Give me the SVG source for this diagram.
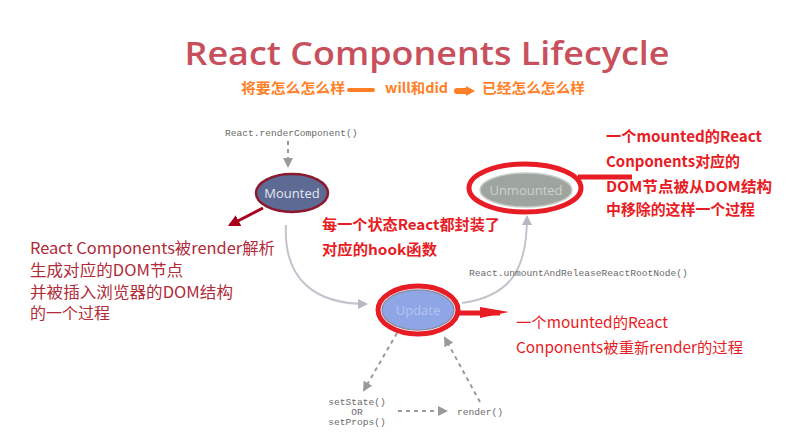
<svg xmlns="http://www.w3.org/2000/svg" width="790" height="447" viewBox="0 0 790 447">
<defs>
<style>
.mono{font-family:"Liberation Mono","DejaVu Sans Mono",monospace;font-size:9.6px;fill:#6a6a6a}
.cn{font-family:"Noto Sans CJK SC","Liberation Sans",sans-serif}
.nodeText{font-family:"Open Sans","Liberation Sans",sans-serif;font-size:13px;text-anchor:middle}
.gray{fill:none;stroke:#c4c4cf;stroke-width:2}
.dash{fill:none;stroke:#9a9a9a;stroke-width:2;stroke-dasharray:4 4}
.redring{fill:none;stroke:#e81c24;stroke-width:5}
</style>
<marker id="ahGray" viewBox="0 0 10 10" refX="8" refY="5" markerWidth="5" markerHeight="5" orient="auto"><path d="M0 0 L10 5 L0 10 Z" fill="#b8b8c4"/></marker>
<marker id="ahDash" viewBox="0 0 10 10" refX="8" refY="5" markerWidth="5" markerHeight="5" orient="auto"><path d="M0 0 L10 5 L0 10 Z" fill="#9a9a9a"/></marker>
<marker id="ahDark" viewBox="0 0 10 10" refX="8" refY="5" markerWidth="4" markerHeight="4" orient="auto"><path d="M0 0 L10 5 L0 10 Z" fill="#a8001c"/></marker>
</defs>
<rect width="790" height="447" fill="#ffffff"/>

<text x="427" y="65" text-anchor="middle" font-family="Open Sans, Liberation Sans, sans-serif" font-weight="600" font-size="33" fill="#c8505c" textLength="485" lengthAdjust="spacingAndGlyphs">React Components Lifecycle</text>

<g id="subtitle" class="cn" font-weight="bold" font-size="14" fill="#ff7f27">
<text x="241" y="93" textLength="104" lengthAdjust="spacingAndGlyphs">将要怎么怎么样</text>
<path d="M349 90 L373 90" stroke="#ff7f27" stroke-width="4" stroke-linecap="round"/>
<text x="385" y="93" textLength="63" lengthAdjust="spacingAndGlyphs">will和did</text>
<path d="M457 91 L468 91" stroke="#ff7f27" stroke-width="6" stroke-linecap="round"/>
<path d="M466 86 L475 91 L466 96 Z" fill="#ff7f27"/>
<text x="482" y="93" textLength="103" lengthAdjust="spacingAndGlyphs">已经怎么怎么样</text>
</g>

<g id="connectors">
<path class="dash" d="M288 141 L288 166" marker-end="url(#ahDash)"/>
<path class="gray" d="M286 225 C283 282 318 304 366 304" marker-end="url(#ahGray)"/>
<path class="gray" d="M462 303 C512 296 527 268 527 217" marker-end="url(#ahGray)"/>
<path class="dash" d="M397 333 L364 390" marker-end="url(#ahDash)"/>
<path class="dash" d="M398 411 L446 411" marker-end="url(#ahDash)"/>
<path class="dash" d="M480 402 L445 338" marker-end="url(#ahDash)"/>
<path d="M263 208 L230 225" fill="none" stroke="#a8001c" stroke-width="3" marker-end="url(#ahDark)"/>
</g>

<text class="mono" x="225" y="136">React.renderComponent()</text>
<text class="mono" x="469" y="276">React.unmountAndReleaseReactRootNode()</text>
<g id="calls" class="mono" text-anchor="middle">
<text x="357" y="405">setState()</text>
<text x="357" y="415">OR</text>
<text x="357" y="425">setProps()</text>
<text x="480" y="415">render()</text>
</g>

<g id="mounted">
<ellipse cx="292" cy="193" rx="36" ry="19" fill="#5c6a94" stroke="#8b1a2e" stroke-width="2.5"/>
<text class="nodeText" x="292" y="198" fill="#e6e8f0">Mounted</text>
</g>

<g id="unmounted">
<ellipse cx="526" cy="190" rx="46" ry="17" fill="#9ea49e" stroke="#c8ccc8" stroke-width="1.5"/>
<text class="nodeText" x="526" y="195" fill="#cdd1cd">Unmounted</text>
<ellipse class="redring" cx="525" cy="188" rx="56" ry="24"/>
<path d="M578 177 L632 177" stroke="#e81c24" stroke-width="5"/>
</g>

<g id="update">
<ellipse cx="418" cy="310" rx="36" ry="20" fill="#8ea6e6" stroke="#8a8fa8" stroke-width="1.5"/>
<text class="nodeText" x="418" y="315" fill="#b4c4ee">Update</text>
<ellipse class="redring" cx="418" cy="310" rx="40" ry="24"/>
<path d="M457 313 L500 313" stroke="#e81c24" stroke-width="5"/>
<path d="M480 307 L509 312 L480 318 Z" fill="#e81c24"/>
</g>

<g id="note-left" class="cn" font-size="15.5" fill="#b02a38">
<text x="30" y="254" textLength="245" lengthAdjust="spacingAndGlyphs">React Components被render解析</text>
<text x="30" y="276" textLength="153" lengthAdjust="spacingAndGlyphs">生成对应的DOM节点</text>
<text x="30" y="298" textLength="203" lengthAdjust="spacingAndGlyphs">并被插入浏览器的DOM结构</text>
<text x="30" y="319" textLength="80" lengthAdjust="spacingAndGlyphs">的一个过程</text>
</g>

<g id="note-middle" class="cn" font-size="14.5" font-weight="bold" fill="#e81c24">
<text x="322" y="230" textLength="178" lengthAdjust="spacingAndGlyphs">每一个状态React都封装了</text>
<text x="322" y="255" textLength="115" lengthAdjust="spacingAndGlyphs">对应的hook函数</text>
</g>

<g id="note-right" class="cn" font-size="15" font-weight="bold" fill="#e81c24">
<text x="606" y="142" textLength="156" lengthAdjust="spacingAndGlyphs">一个mounted的React</text>
<text x="606" y="167" textLength="134" lengthAdjust="spacingAndGlyphs">Conponents对应的</text>
<text x="606" y="192" textLength="166" lengthAdjust="spacingAndGlyphs">DOM节点被从DOM结构</text>
<text x="606" y="215" textLength="149" lengthAdjust="spacingAndGlyphs">中移除的这样一个过程</text>
</g>

<g id="note-update" class="cn" font-size="15" fill="#e81c24">
<text x="516" y="328" textLength="152" lengthAdjust="spacingAndGlyphs">一个mounted的React</text>
<text x="516" y="353" textLength="227" lengthAdjust="spacingAndGlyphs">Conponents被重新render的过程</text>
</g>
</svg>
